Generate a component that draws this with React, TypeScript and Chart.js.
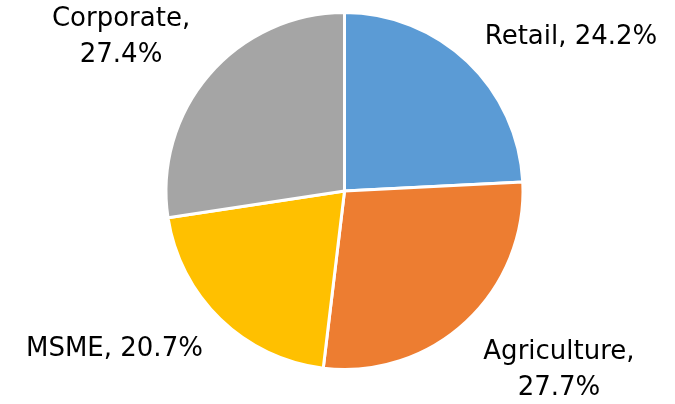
import React, { useEffect, useRef } from "react";
import { Chart, registerables } from "chart.js";

Chart.register(...registerables);

const categories = ["Retail", "Agriculture", "MSME", "Corporate"];
const values = [24.2, 27.7, 20.7, 27.4];
const colors = ["#5B9BD5", "#ED7D31", "#FFC000", "#A5A5A5"];

const FONT_SIZE = 26;
const FONT = `${FONT_SIZE}px "DejaVu Sans", sans-serif`;
const LINE_GAP = 36;
const LABEL_OFFSET = 25;
const WRAP_WIDTH = 200;

const labelPlugin = {
  id: "outsideLabels",
  afterDatasetsDraw(chart: any) {
    const ctx = chart.ctx;
    const meta = chart.getDatasetMeta(0);
    ctx.save();
    ctx.font = FONT;
    ctx.fillStyle = "#000000";
    ctx.textBaseline = "alphabetic";
    ctx.textAlign = "left";
    const cap = FONT_SIZE * 0.73;
    meta.data.forEach((arc: any, i: number) => {
      const { x, y, startAngle, endAngle, outerRadius } = arc.getProps(
        ["x", "y", "startAngle", "endAngle", "outerRadius"],
        true
      );
      const mid = (startAngle + endAngle) / 2;
      const cos = Math.cos(mid);
      const sin = Math.sin(mid);
      const px = x + (outerRadius + LABEL_OFFSET) * cos;
      const py = y + (outerRadius + LABEL_OFFSET) * sin;
      const full = `${categories[i]}, ${values[i].toFixed(1)}%`;
      let lines = [full];
      if (ctx.measureText(full).width > WRAP_WIDTH) {
        lines = [`${categories[i]},`, `${values[i].toFixed(1)}%`];
      }
      const widths = lines.map((l) => ctx.measureText(l).width);
      const blockW = Math.max(...widths);
      const blockH = cap + (lines.length - 1) * LINE_GAP;
      const left = cos >= 0 ? px : px - blockW;
      let top = sin < 0 ? py - blockH : py;
      if (sin < 0 && lines.length > 1) top += 4;
      lines.forEach((l, k) => {
        const lx = left + (blockW - widths[k]) / 2;
        const ly = top + cap + k * LINE_GAP;
        ctx.fillText(l, lx, ly);
      });
    });
    ctx.restore();
  },
};

export default function App() {
  const ref = useRef<HTMLCanvasElement | null>(null);
  useEffect(() => {
    document.body.style.margin = "0";
    if (!ref.current) return;
    const chart = new Chart(ref.current, {
      type: "pie",
      data: {
        labels: categories,
        datasets: [
          {
            data: values,
            backgroundColor: colors,
            borderColor: "#ffffff",
            borderWidth: 3,
            hoverOffset: 0,
          },
        ],
      },
      options: {
        responsive: false,
        animation: false,
        layout: { padding: { top: 11, bottom: 33, left: 164, right: 150 } },
        plugins: {
          legend: { display: false },
          tooltip: { enabled: false },
        },
      },
      plugins: [labelPlugin],
    });
    return () => chart.destroy();
  }, []);
  return (
    <div style={{ position: "absolute", left: 0, top: 0, width: 675, height: 404, background: "#fff" }}>
      <canvas ref={ref} width={675} height={404} />
    </div>
  );
}
